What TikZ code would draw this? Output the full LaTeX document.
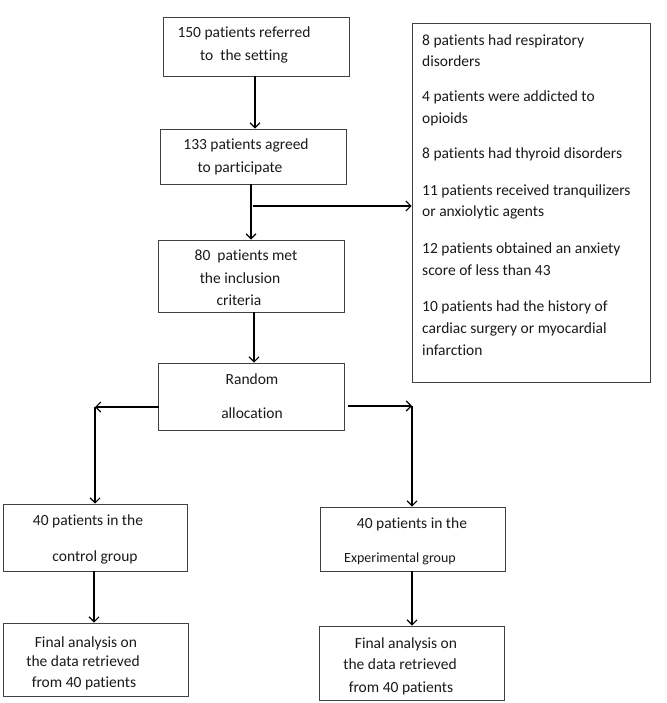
\documentclass[tikz,border=0pt]{standalone}
\usepackage{fontspec}
\setmainfont[Ligatures={NoCommon}]{Carlito}
\usetikzlibrary{arrows.meta}
\begin{document}
\begin{tikzpicture}[x=1pt,y=-1pt,
  box/.style={draw=black!75,line width=0.9pt,inner sep=0pt,minimum width=#1},
  txt/.style={inner sep=0pt,anchor=base,font=\fontsize{15.5}{18}\selectfont,text=black!90},
  ltxt/.style={txt,anchor=base west},
  arr/.style={line width=1.1pt,-{Straight Barb[length=5pt,width=10pt]}}]
\useasboundingbox (0,0) rectangle (666,703);
% boxes
\node[box=186pt,minimum height=59pt] (b1) at (256,46.5) {};
\node[box=186pt,minimum height=55pt] (b2) at (253,156.5) {};
\node[box=186pt,minimum height=72pt] (b3) at (251,276) {};
\node[box=186pt,minimum height=67pt] (b4) at (251,396.5) {};
\node[box=238pt,minimum height=359pt] (ex) at (531,202.5) {};
\node[box=184pt,minimum height=67pt] (b5) at (95,537.5) {};
\node[box=185pt,minimum height=64pt] (b6) at (412.5,539) {};
\node[box=185pt,minimum height=73pt] (b7) at (95.5,659.5) {};
\node[box=185pt,minimum height=74pt] (b8) at (411.5,663) {};
% texts
\node[txt] (t1a) at (244,38) {150 patients referred};
\node[txt] (t1b) at (244,61) {to\ \ the setting};
\node[txt] (t2a) at (246,150) {133 patients agreed};
\node[txt] (t2b) at (240,173) {to participate};
\node[txt] (t3a) at (246,260) {80\ \ patients met};
\node[txt] (t3b) at (240,283) {the inclusion};
\node[txt] (t3c) at (239,305) {criteria};
\node[txt] (t4a) at (252,384) {Random};
\node[txt] (t4b) at (252,418) {allocation};
\node[txt] (t5a) at (88,525) {40 patients in the};
\node[txt] (t5b) at (95,561) {control group};
\node[txt] (t6a) at (412,528) {40 patients in the};
\node[txt,font=\fontsize{14}{17}\selectfont] (t6b) at (400,562) {Experimental group};
\node[txt] (t7a) at (86,647) {Final analysis on};
\node[txt] (t7b) at (83,666) {the data retrieved};
\node[txt] (t7c) at (84,687) {from 40 patients};
\node[txt] (t8a) at (406,648) {Final analysis on};
\node[txt] (t8b) at (400,669) {the data retrieved};
\node[txt] (t8c) at (401,692) {from 40 patients};
% exclusion texts
\node[ltxt] (e1) at (422,46) {8 patients had respiratory};
\node[ltxt] (e2) at (422,67) {disorders};
\node[ltxt] (e3) at (422,102) {4 patients were addicted to};
\node[ltxt] (e4) at (422,124) {opioids};
\node[ltxt] (e5) at (422,159) {8 patients had thyroid disorders};
\node[ltxt] (e6) at (422,196) {11 patients received tranquilizers};
\node[ltxt] (e7) at (422,217) {or anxiolytic agents};
\node[ltxt] (e8) at (422,253) {12 patients obtained an anxiety};
\node[ltxt] (e9) at (422,275) {score of less than 43};
\node[ltxt] (e10) at (422,311) {10 patients had the history of};
\node[ltxt] (e11) at (422,333) {cardiac surgery or myocardial};
\node[ltxt] (e12) at (422,355) {infarction};
% connectors
\draw[arr] ([xshift=-1pt]b1.south) -- ([xshift=-1pt]b1.south |- b2.north);
\draw[arr] ([xshift=-2pt]b2.south) -- ([xshift=-2pt]b2.south |- b3.north);
\coordinate (br) at (253,206);
\draw[arr] (br) -- (ex.west |- br);
\draw[arr] ([xshift=3pt]b3.south) -- ([xshift=3pt]b3.south |- b4.north);
\coordinate (L) at (95,407);
\coordinate (R) at (412,406);
\draw[arr] ([xshift=1pt]b4.west |- L) -- (L);
\draw[arr] (L) -- (b5.north);
\draw[arr] ([xshift=4pt]b4.east |- R) -- (R);
\draw[arr] (R) -- (b6.north -| R);
\draw[arr] ([xshift=-1pt]b5.south) -- ([xshift=-1pt]b5.south |- b7.north);
\draw[arr] (b6.south -| R) -- (b8.north -| R);
\end{tikzpicture}
\end{document}
